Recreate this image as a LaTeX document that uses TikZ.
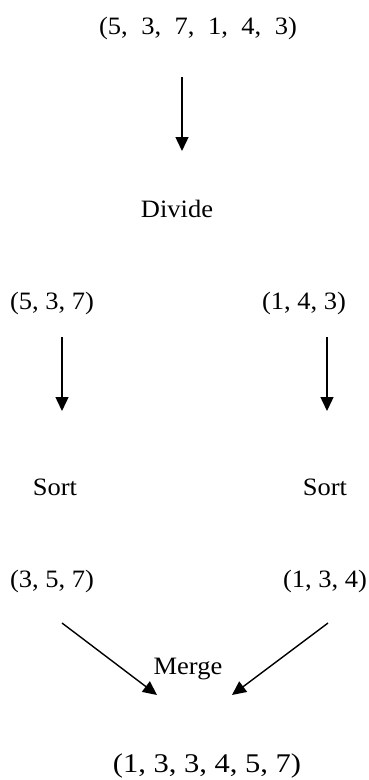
\documentclass[tikz,border=0pt]{standalone}
\usepackage{fontspec}
\setmainfont{Liberation Serif}
\newfontfamily\lblfont[FakeStretch=1.06]{Liberation Serif}
\newfontfamily\bigfont[FakeStretch=1.13]{Liberation Serif}
\usetikzlibrary{arrows.meta}
\begin{document}
\begin{tikzpicture}[x=1pt,y=1pt,
  lbl/.style={inner sep=0pt,font=\lblfont\fontsize{25}{27}\selectfont},
  big/.style={inner sep=0pt,font=\bigfont\fontsize{27}{29}\selectfont},
  conn/.style={line width=1.4pt,-{Triangle[width=13pt,length=14pt]}}]
\useasboundingbox[fill=white] (0,0) rectangle (368,-780);
\node[lbl] (top) at (198,-28) {(5,\hspace{13.5pt}3,\hspace{13.5pt}7,\hspace{13.5pt}1,\hspace{13.5pt}4,\hspace{13.5pt}3)};
\node[lbl] (divide) at (177,-209) {Divide};
\node[lbl] (l1) at (52,-303) {(5, 3, 7)};
\node[lbl] (r1) at (304,-303) {(1, 4, 3)};
\node[lbl] (lsort) at (55,-487) {Sort};
\node[lbl] (rsort) at (325,-487) {Sort};
\node[lbl] (l2) at (52,-581) {(3, 5, 7)};
\node[lbl] (r2) at (325,-581) {(1, 3, 4)};
\node[lbl] (merge) at (188,-669) {Merge};
\node[big] (final) at (207,-766) {(1, 3, 3, 4, 5, 7)};
\coordinate (ta) at (182,-77);
\coordinate (tb) at (182,-151);
\coordinate (la) at (62,-337);
\coordinate (lb) at (62,-411);
\coordinate (ra) at (327,-337);
\coordinate (rb) at (327,-411);
\coordinate (ma) at (62,-623);
\coordinate (mb) at (157,-695);
\coordinate (na) at (328,-623);
\coordinate (nb) at (232,-695);
\draw[conn] (ta) -- (tb);
\draw[conn] (la) -- (lb);
\draw[conn] (ra) -- (rb);
\draw[conn] (ma) -- (mb);
\draw[conn] (na) -- (nb);
\end{tikzpicture}
\end{document}
